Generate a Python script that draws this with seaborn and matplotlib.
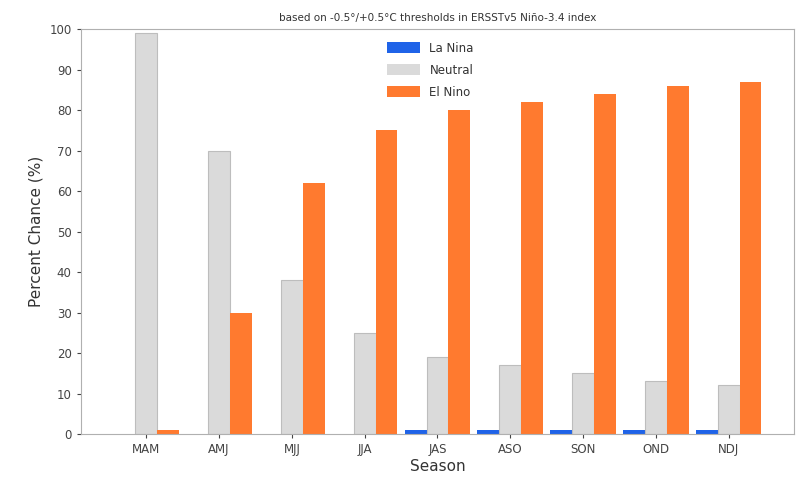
import pandas as pd
import seaborn as sns
import matplotlib.pyplot as plt

seasons = ["MAM", "AMJ", "MJJ", "JJA", "JAS", "ASO", "SON", "OND", "NDJ"]
la_nina = [0, 0, 0, 0, 1, 1, 1, 1, 1]
neutral = [99, 70, 38, 25, 19, 17, 15, 13, 12]
el_nino = [1, 30, 62, 75, 80, 82, 84, 86, 87]

df = pd.DataFrame({"Season": seasons, "La Nina": la_nina,
                   "Neutral": neutral, "El Nino": el_nino})
long_df = df.melt(id_vars="Season", var_name="Category", value_name="Percent")

sns.set_style("ticks")
plt.rcParams["font.family"] = ["DejaVu Sans"]

colors = {"La Nina": "#1f63e8", "Neutral": "#dadada", "El Nino": "#ff7a2f"}

fig, ax = plt.subplots(figsize=(7.99, 4.78), dpi=100)
sns.barplot(data=long_df, x="Season", y="Percent", hue="Category",
            palette=colors, width=0.9, saturation=1, linewidth=0, ax=ax)

# light grey outline on the neutral bars only
for p in ax.patches:
    if p.get_facecolor()[:3] == plt.matplotlib.colors.to_rgb(colors["Neutral"]):
        p.set_edgecolor("#bdbdbd")
        p.set_linewidth(0.8)

ax.set_ylim(0, 100)
ax.set_yticks(range(0, 101, 10))
ax.set_xlim(-0.9, 8.9)
ax.set_xlabel("Season", fontsize=11, color="#333333", labelpad=2)
ax.set_ylabel("Percent Chance (%)", fontsize=11, color="#333333")
ax.tick_params(labelsize=8.5, colors="#444444", length=3)
for s in ax.spines.values():
    s.set_color("#b0b0b0")
    s.set_visible(True)

ax.set_title("based on -0.5°/+0.5°C thresholds in ERSSTv5 Niño-3.4 index",
             fontsize=7.5, color="#333333", pad=6)
leg = ax.legend(loc="upper center", bbox_to_anchor=(0.49, 0.995), frameon=False,
                fontsize=8.5, handlelength=2.8, handleheight=1.0,
                labelspacing=0.75, labelcolor="#333333")
for h in leg.legend_handles:
    h.set_linewidth(0)

fig.subplots_adjust(left=0.101, right=0.994, top=0.939, bottom=0.092)
fig.savefig("out.png")
